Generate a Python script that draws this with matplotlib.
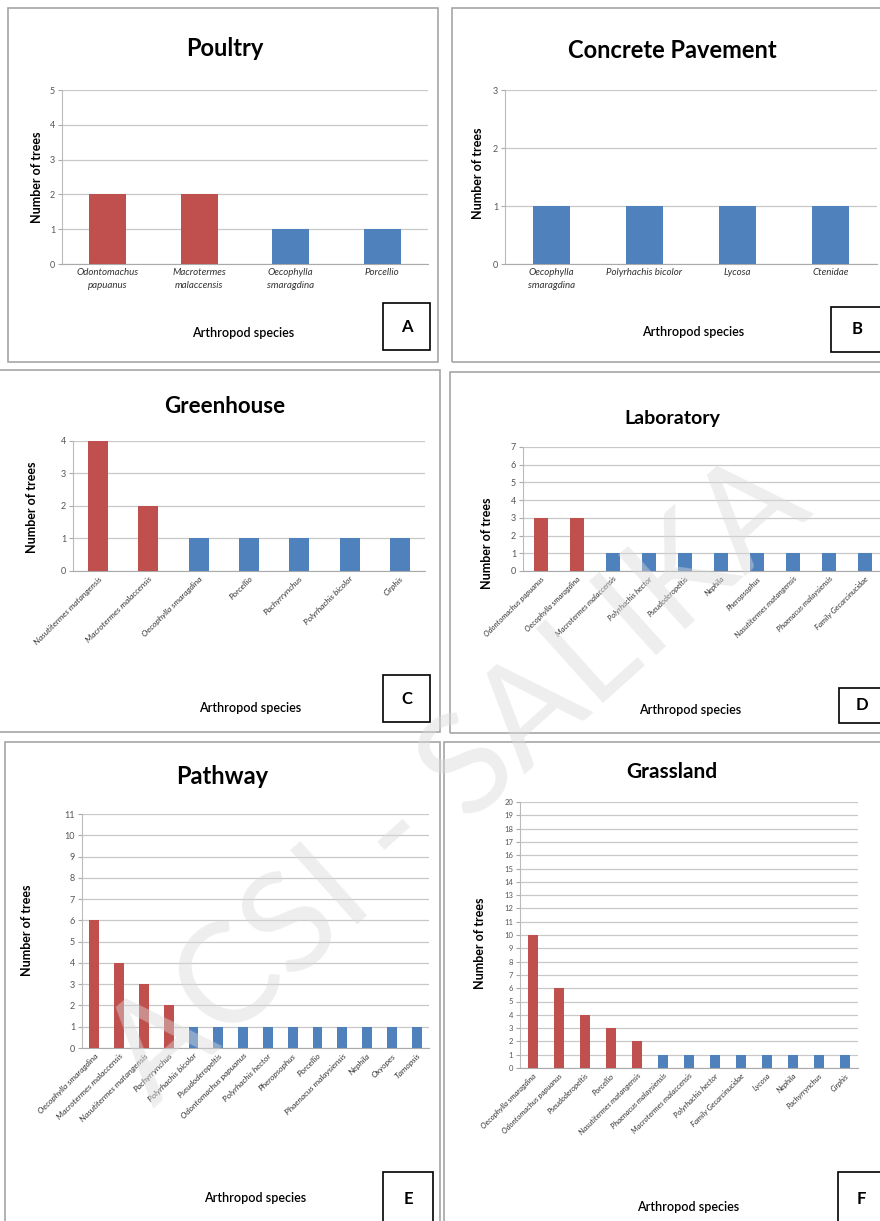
import matplotlib.pyplot as plt
from matplotlib.patches import Rectangle

plt.rcParams['font.family'] = ['Lato', 'DejaVu Sans']

RED = '#C0504D'
BLUE = '#4F81BD'

# ---- data ----
poultry_species = ['Odontomachus\npapuanus', 'Macrotermes\nmalaccensis', 'Oecophylla\nsmaragdina', 'Porcellio']
poultry_trees = [2, 2, 1, 1]
poultry_red = 2

pavement_species = ['Oecophylla\nsmaragdina', 'Polyrhachis bicolor', 'Lycosa', 'Ctenidae']
pavement_trees = [1, 1, 1, 1]
pavement_red = 0

greenhouse_species = ['Nasutitermes matangensis', 'Macrotermes malaccensis', 'Oecophylla smaragdina',
                      'Porcellio', 'Pachyrrynchus', 'Polyrhachis bicolor', 'Cirphis']
greenhouse_trees = [4, 2, 1, 1, 1, 1, 1]
greenhouse_red = 2

lab_species = ['Odontomachus papuanus', 'Oecophylla smaragdina', 'Macrotermes malaccensis',
               'Polyrhachis hector', 'Pseudoderopeltis', 'Nephila', 'Pheropsophus',
               'Nasutitermes matangensis', 'Phaenacus malaysiensis', 'Family Gecarcinucidae']
lab_trees = [3, 3, 1, 1, 1, 1, 1, 1, 1, 1]
lab_red = 2

pathway_species = ['Oecophylla smaragdina', 'Macrotermes malaccensis', 'Nasutitermes matangensis',
                   'Pachyrrynchus', 'Polyrhachis bicolor', 'Pseudoderopeltis', 'Odontomachus papuanus',
                   'Polyrhachis hector', 'Pheropsophus', 'Porcellio', 'Phaenacus malaysiensis',
                   'Nephila', 'Oxyopes', 'Tamopsis']
pathway_trees = [6, 4, 3, 2, 1, 1, 1, 1, 1, 1, 1, 1, 1, 1]
pathway_red = 4

grass_species = ['Oecophylla smaragdina', 'Odontomachus papuanus', 'Pseudoderopeltis', 'Porcellio',
                 'Nasutitermes matangensis', 'Phaenacus malaysiensis', 'Macrotermes malaccensis',
                 'Polyrhachis hector', 'Family Gecarcinucidae', 'Lycosa', 'Nephila',
                 'Pachyrrynchus', 'Cirphis']
grass_trees = [10, 6, 4, 3, 2, 1, 1, 1, 1, 1, 1, 1, 1]
grass_red = 5

W, H = 880, 1221
fig = plt.figure(figsize=(W / 100, H / 100), dpi=100)


def fx(x):
    return x / W


def fy(y):
    return 1 - y / H


def panel_box(x0, y0, x1, y1):
    fig.patches.append(Rectangle((fx(x0), fy(y1)), fx(x1 - x0), y1 / H - y0 / H, transform=fig.transFigure,
                                 fill=False, edgecolor='#a6a6a6', lw=1.2))


def letter_box(x0, y0, x1, y1, letter):
    fig.patches.append(Rectangle((fx(x0), fy(y1)), fx(x1 - x0), y1 / H - y0 / H, transform=fig.transFigure,
                                 facecolor='white', edgecolor='black', lw=1.2, zorder=5))
    fig.text(fx((x0 + x1) / 2), fy((y0 + y1) / 2), letter, ha='center', va='center',
             fontsize=12, fontweight='bold', zorder=6)


def bar_panel(box, title, title_y, title_fs, species, trees, n_red, ymax,
              ylab_x, ylab_y, xlab_xy, rotated, tick_fs, title_x=None):
    x0, y0, x1, y1 = box
    ax = fig.add_axes([fx(x0), fy(y1), fx(x1 - x0), y1 / H - y0 / H])
    colors = [RED] * n_red + [BLUE] * (len(trees) - n_red)
    ax.bar(range(len(trees)), trees, width=0.4, color=colors, zorder=3)
    ax.set_xlim(-0.5, len(trees) - 0.5)
    ax.set_ylim(0, ymax)
    ax.set_yticks(range(ymax + 1))
    ax.yaxis.grid(True, color='#c8c8c8', lw=0.9, zorder=0)
    ax.tick_params(axis='y', labelsize=6.5 if ymax < 15 else 5.5, labelcolor='#555555',
                   color='#aaaaaa', length=3, pad=2)
    ax.tick_params(axis='x', length=0, pad=3)
    ax.set_xticks(range(len(trees)))
    if rotated:
        ax.set_xticklabels(species, rotation=45, ha='right', rotation_mode='anchor',
                           fontsize=tick_fs, style='italic', color='#333333')
    else:
        ax.set_xticklabels(species, fontsize=tick_fs, style='italic', color='#333333', linespacing=1.6)
    for s in ['top', 'right']:
        ax.spines[s].set_visible(False)
    ax.spines['left'].set_color('#bbbbbb')
    ax.spines['bottom'].set_color('#aaaaaa')
    tx = title_x if title_x is not None else (x0 + x1) / 2
    fig.text(fx(tx), fy(title_y), title, ha='center', va='center', fontsize=title_fs, fontweight='bold')
    fig.text(fx(ylab_x), fy(ylab_y), 'Number of trees', rotation=90, ha='center', va='center',
             fontsize=9, fontweight='bold')
    fig.text(fx(xlab_xy[0]), fy(xlab_xy[1]), 'Arthropod species', ha='center', va='center',
             fontsize=9, fontweight='semibold')
    return ax


# panel borders
panel_box(8, 8, 438, 362)
panel_box(452, 8, 884, 362)
panel_box(-4, 370, 440, 732)
panel_box(450, 372, 884, 733)
panel_box(5, 742, 440, 1225)
panel_box(444, 742, 884, 1225)

bar_panel((62, 90, 428, 264), 'Poultry', 48, 17, poultry_species, poultry_trees, poultry_red, 5,
          37, 177, (243, 333), False, 7, title_x=225)
bar_panel((505, 90, 877, 264), 'Concrete Pavement', 50, 17, pavement_species, pavement_trees, pavement_red, 3,
          478, 173, (693, 332), False, 7, title_x=672)
bar_panel((73, 441, 425, 571), 'Greenhouse', 407, 16, greenhouse_species, greenhouse_trees, greenhouse_red, 4,
          32, 507, (250, 708), True, 6, title_x=225)
bar_panel((523, 447, 883, 571), 'Laboratory', 418, 14, lab_species, lab_trees, lab_red, 7,
          487, 543, (690, 710), True, 5.5, title_x=672)
bar_panel((82, 814, 429, 1048), 'Pathway', 777, 17, pathway_species, pathway_trees, pathway_red, 11,
          27, 930, (255, 1198), True, 6, title_x=222)
bar_panel((520, 802, 858, 1068), 'Grassland', 772, 15, grass_species, grass_trees, grass_red, 20,
          480, 943, (688, 1207), True, 5.5, title_x=672)

letter_box(383, 303, 430, 350, 'A')
letter_box(831, 307, 884, 352, 'B')
letter_box(383, 675, 430, 722, 'C')
letter_box(839, 688, 884, 723, 'D')
letter_box(383, 1172, 433, 1225, 'E')
letter_box(838, 1172, 884, 1225, 'F')

# faint diagonal watermark
fig.text(0.52, 0.36, 'ACSI - SALIKA', ha='center', va='center', rotation=42, fontsize=100,
         color='#d9d9d9', alpha=0.45, zorder=10)

fig.savefig('out.png', dpi=100)
